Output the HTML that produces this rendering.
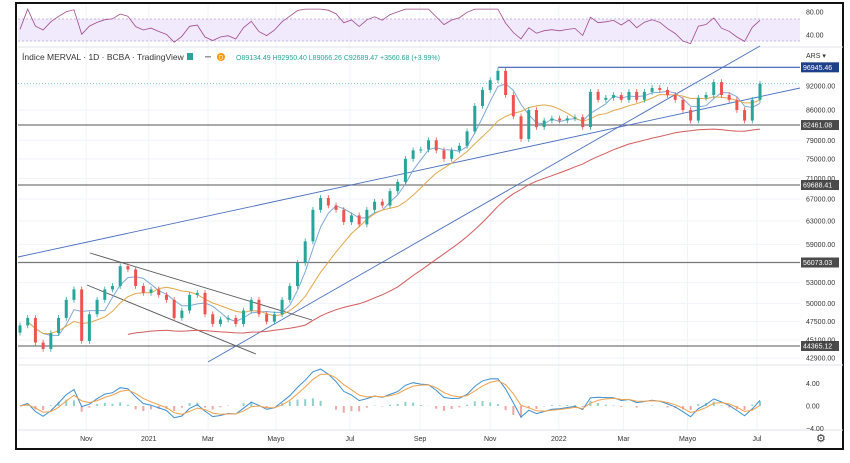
<!DOCTYPE html>
<html><head><meta charset="utf-8">
<style>
html,body{margin:0;padding:0;background:#fff;}
body{width:850px;height:458px;overflow:hidden;font-family:"Liberation Sans",sans-serif;}
svg text{font-family:"Liberation Sans",sans-serif;}
</style></head>
<body>
<svg id="chart" width="850" height="458" viewBox="0 0 850 458" xmlns="http://www.w3.org/2000/svg">
  <rect x="16" y="3" width="827" height="446" fill="#fff" stroke="#111" stroke-width="2"/>
  <g id="grid"></g>
  <rect x="18" y="19" width="782" height="22" fill="#ede4fb" opacity="0.8"/>
  <line x1="18" y1="19" x2="800" y2="19" stroke="#c9b6e8" stroke-dasharray="2,2"/>
  <line x1="18" y1="41" x2="800" y2="41" stroke="#c9b6e8" stroke-dasharray="2,2"/>
  <line x1="18" y1="47" x2="843" y2="47" stroke="#e0e3eb"/>
  <line x1="18" y1="365" x2="843" y2="365" stroke="#e0e3eb"/>
  <line x1="18" y1="430" x2="843" y2="430" stroke="#e0e3eb"/>
  <g id="rsi"></g>
  <g id="levels"></g>
  <g id="mas"></g>
  <g id="candles"></g>
  <g id="macd"></g>
  <g id="axis"></g>
  <g id="taxis"></g>
  <text x="22" y="60" font-size="8.5" fill="#333">Índice MERVAL · 1D · BCBA · TradingView</text>
  <rect x="187" y="53" width="6" height="7" fill="#26a69a"/>
  <rect x="205" y="56" width="6" height="1.5" fill="#999"/>
  <circle cx="221" cy="57" r="4" fill="#ff9800"/>
  <text x="219" y="59.5" font-size="6" fill="#fff">D</text>
  <text x="236" y="60" font-size="7" fill="#26a69a">O89134.49 H92950.40 L89066.26 C92689.47 +3560.68 (+3.99%)</text>
  <text x="806" y="58" font-size="7" fill="#333">ARS ▾</text>
  <text x="816" y="442" font-size="11" fill="#333">⚙</text>
</svg>
<script>
const closes=[47000,48000,44800,44000,46000,48000,50500,52000,45000,48500,50500,52000,52500,55500,55000,52500,51500,52000,51200,50500,48000,49000,51200,51500,48500,47200,47800,48000,47200,49000,50500,48500,47500,48500,50500,52500,56000,59500,65000,67200,65800,65000,62800,64000,62400,65000,66500,65800,68500,70300,75000,76800,77000,79000,76800,75000,76800,77800,81000,87000,91000,93500,96000,89700,84500,79300,86000,82000,83500,84000,83500,84000,84300,82000,90500,88500,89000,89700,88500,90500,88500,90500,91500,91000,89700,88500,86000,83500,89000,89700,93000,89700,88500,86000,83500,88500,92600];
const priceTicks=[92000,86000,79000,75000,71000,67000,63000,59000,53000,50000,47500,45100,42900];
const levelValues=[96945.46,82461.08,69688.41,56073.03,44365.12];
const timeLabels=["Nov","2021","Mar","Mayo","Jul","Sep","Nov","2022","Mar","Mayo","Jul"];
const timeIdx=[8.6,16.7,24.4,33.2,42.8,51.9,61,69.9,78.3,86.6,95.6];
const rsiTicks=[80,40];
const macdTicks=[4,0,-4];

const NS="http://www.w3.org/2000/svg";
const n=closes.length;
const X0=20,X1=760;
function xAt(i){return X0+i*(X1-X0)/(n-1);}
function yP(p){return 86+(Math.log(92000)-Math.log(p))*356.5;}
function yR(v){return 12+(80-v)*0.575;}
function yM(v){return 406-v*5.6;}
function mk(tag,attrs,parent){const e=document.createElementNS(NS,tag);for(const k in attrs)e.setAttribute(k,attrs[k]);parent.appendChild(e);return e;}
const G=id=>document.getElementById(id);

for(const p of priceTicks){const l=mk('line',{x1:18,x2:800,y1:yP(p),y2:yP(p),stroke:'#f0f3fa'},G('grid'));

}
timeIdx.forEach(i=>{const l=mk('line',{x1:xAt(i),x2:xAt(i),y1:5,y2:430,stroke:'#f0f3fa'},G('grid'));

});

for(const p of priceTicks){const t=mk('text',{x:806,y:yP(p)+2.5,'font-size':7,fill:'#333'},G('axis'));t.textContent=p.toFixed(2);

}
levelValues.forEach((v,k)=>{
  const y=yP(v);const top=k===0;
  const l=mk('line',{x1:top?xAt(62):18,x2:800,y1:y,y2:y,stroke:top?'#3d5fb0':'#777','stroke-width':1.2},G('levels'));
  
  
  const r=mk('rect',{x:801,y:y-5,width:38,height:10,fill:top?'#1e3f8a':'#4a4a4a'},G('levels'));
  
  
  const t=mk('text',{x:803,y:y+2.5,'font-size':7,fill:'#fff'},G('levels'));t.textContent=v.toFixed(2);
  
  
});
const last=closes[n-1];
const dl=mk('line',{x1:18,x2:800,y1:yP(last),y2:yP(last),stroke:'#26a69a','stroke-dasharray':'1,2',opacity:0.6},G('levels'));


const trend=[[18,257,800,88,'#4a6fbf'],[208,362,760,46,'#4a6fbf'],[90,253,312,320,'#555'],[87,285,256,354,'#555']];
trend.forEach(t=>{const l=mk('line',{x1:t[0],y1:t[1],x2:t[2],y2:t[3],stroke:t[4],'stroke-width':0.9},G('levels'));

});

function ema(arr,len){const a=2/(len+1);const o=[];arr.forEach((v,i)=>o.push(i?o[i-1]+a*(v-o[i-1]):v));return o;}
function sma(arr,len){return arr.map((v,i)=>{const s=arr.slice(Math.max(0,i-len+1),i+1);return s.reduce((a,b)=>a+b,0)/s.length;});}
const maDefs=[[sma(closes,4),'#7fa8d8',1,'ma-fast'],[sma(closes,10),'#e0a84a',1,'ma-medium'],[sma(closes,30),'#d35b5b',14,'ma-slow']];
maDefs.forEach(([arr,col,start,name])=>{
  let d='';for(let i=start;i<n;i++){let v=arr[i];if(name==='ma-slow')v=v*0.93;d+=(i===start?'M':'L')+xAt(i).toFixed(1)+','+yP(v).toFixed(1);}
  const p=mk('path',{d:d,fill:'none',stroke:col,'stroke-width':1},G('mas'));
  
  
});

closes.forEach((c,i)=>{
  const o=i?closes[i-1]:c*0.98;const up=c>=o;const col=up?'#26a69a':'#ef5350';
  const hi=Math.max(o,c)*1.008,lo=Math.min(o,c)*0.992;const x=xAt(i);
  const w=mk('line',{x1:x,x2:x,y1:yP(hi),y2:yP(lo),stroke:col,'stroke-width':0.8},G('candles'));
  
  
  const yt=yP(Math.max(o,c)),yb=yP(Math.min(o,c));
  const b=mk('rect',{x:x-1.5,y:yt,width:3,height:Math.max(1,yb-yt),fill:col},G('candles'));
  
  
});

const rsi=[];{let ag=0,al=0;closes.forEach((c,i)=>{if(!i){rsi.push(50);return;}const ch=c-closes[i-1];const g=Math.max(ch,0),l=Math.max(-ch,0);ag=ag?ag*0.8+g*0.2:g+1;al=al?al*0.8+l*0.2:l+1;rsi.push(100-100/(1+ag/al));});}
{let d='';rsi.forEach((v,i)=>{d+=(i?'L':'M')+xAt(i).toFixed(1)+','+yR(Math.max(25,Math.min(85,v))).toFixed(1);});
const p=mk('path',{d:d,fill:'none',stroke:'#a04a8c','stroke-width':0.8},G('rsi'));

}
rsiTicks.forEach(v=>{const t=mk('text',{x:806,y:yR(v)+2.5,'font-size':7,fill:'#333'},G('rsi'));t.textContent=v.toFixed(2);

});

const e1=ema(closes,3),e2=ema(closes,7);
const macd=closes.map((c,i)=>(e1[i]-e2[i])/c*100*0.9);
const sig=ema(macd,3);
macd.forEach((m,i)=>{const h=m-sig[i];const x=xAt(i);
  const r=mk('rect',{x:x-1,y:Math.min(yM(0),yM(h)),width:2,height:Math.abs(yM(h)-yM(0)),fill:h>=0?'#8fd1c8':'#f2a5a3'},G('macd'));
  
  });
[[macd,'#3d8fd1','macd-line'],[sig,'#f0a04b','signal-line']].forEach(([arr,col,name])=>{
  let d='';arr.forEach((v,i)=>{d+=(i?'L':'M')+xAt(i).toFixed(1)+','+yM(v).toFixed(1);});
  const p=mk('path',{d:d,fill:'none',stroke:col,'stroke-width':1},G('macd'));
  
  });
macdTicks.forEach(v=>{const t=mk('text',{x:806,y:yM(v)+2.5,'font-size':7,fill:'#333'},G('macd'));t.textContent=(v<0?'−':'')+Math.abs(v).toFixed(2);

});

timeLabels.forEach((s,k)=>{const t=mk('text',{x:xAt(timeIdx[k]),y:441,'font-size':7,fill:'#333','text-anchor':'middle'},G('taxis'));t.textContent=s;

});
</script>
</body></html>
